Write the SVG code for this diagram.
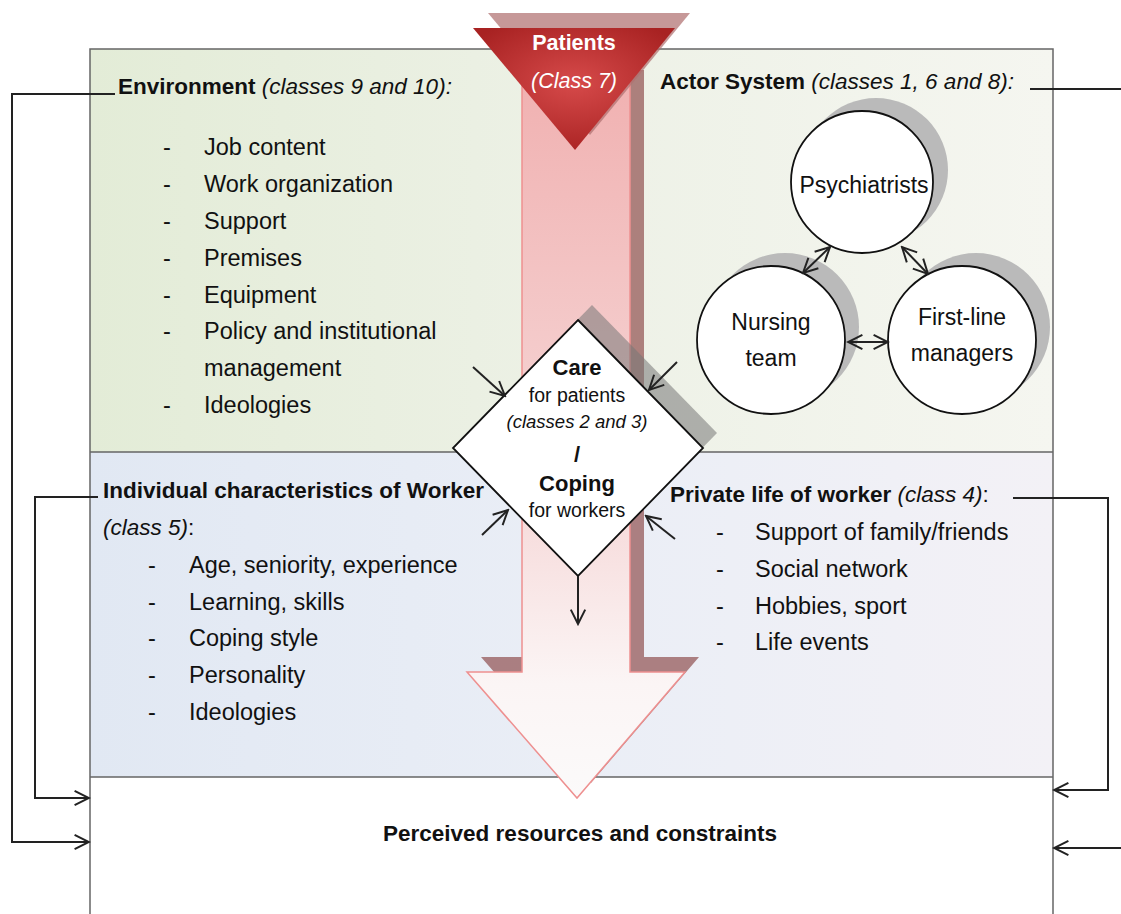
<svg xmlns="http://www.w3.org/2000/svg" width="1121" height="914" viewBox="0 0 1121 914">
<style>
text{font-family:"Liberation Sans",Arial,sans-serif;fill:#111}
.h{font-size:22.5px}
.b{font-weight:bold}
.i{font-style:italic}
.li{font-size:23.5px}
.c{text-anchor:middle}
.conn{fill:none;stroke:#222;stroke-width:2}
.frame{stroke:#666;stroke-width:1.5;fill:none}
.node{fill:#fff;stroke:#111;stroke-width:1.8}
.csh{fill:#bababa}
</style>
<defs>
<linearGradient id="gGreen" x1="0" y1="0" x2="1" y2="0">
<stop offset="0" stop-color="#e3ecd7"/><stop offset="0.5" stop-color="#edf1e6"/><stop offset="1" stop-color="#f5f6f0"/>
</linearGradient>
<linearGradient id="gBlue" x1="0" y1="0" x2="1" y2="0">
<stop offset="0" stop-color="#e1e8f3"/><stop offset="0.5" stop-color="#eaeef6"/><stop offset="1" stop-color="#f3f1f6"/>
</linearGradient>
<linearGradient id="gShaft" x1="0" y1="0" x2="0" y2="1">
<stop offset="0" stop-color="#f0adad"/><stop offset="0.6" stop-color="#f6d8d8"/><stop offset="0.85" stop-color="#fbf5f5"/><stop offset="1" stop-color="#fbfafa"/>
</linearGradient>
<radialGradient id="gRed" cx="0.5" cy="0.45" r="0.6">
<stop offset="0" stop-color="#d64a4a"/><stop offset="1" stop-color="#a82222"/>
</radialGradient>
<marker id="open" viewBox="0 0 10 10" refX="9" refY="5" markerWidth="9" markerHeight="9" orient="auto-start-reverse" markerUnits="strokeWidth">
<path d="M1,1 L9,5 L1,9" fill="none" stroke="#222" stroke-width="1.1"/>
</marker>
</defs>

<!-- backgrounds -->
<rect x="90" y="49" width="963" height="403" fill="url(#gGreen)"/>
<rect x="90" y="452" width="963" height="325" fill="url(#gBlue)"/>
<rect x="90" y="777" width="963" height="137" fill="#fff"/>
<path class="frame" d="M90,914 V49 H1053 V914 M90,452 H1053 M90,777 H1053"/>

<!-- big flow arrow -->
<g id="flow-arrow">
<polygon points="536,70 536,657 481,657 591,783 699,657 644,657 644,70" fill="#8c4a4a" opacity="0.68"/>
<polygon points="522,35 522,672 467,672 577,798 685,672 630,672 630,35" fill="url(#gShaft)" stroke="#ee9090" stroke-width="1.5"/>
</g>

<!-- patients triangle -->
<g id="patients">
<polygon points="488,13 690,13 590,135" fill="#b07070" opacity="0.72"/>
<polygon points="473,28 675,28 575,150" fill="url(#gRed)"/>
<text x="574" y="50" class="c b" style="font-size:21.5px;fill:#fff">Patients</text>
<text x="574" y="88" class="c i" style="font-size:21.5px;fill:#fff">(Class 7)</text>
</g>

<!-- care / coping diamond -->
<g id="care-coping">
<polygon points="592,305 717,433 592,561 467,433" fill="#777" opacity="0.55"/>
<polygon points="578,320 703,448 578,576 453,448" fill="#fff" stroke="#111" stroke-width="1.8"/>
<text x="577" y="375" class="c b" style="font-size:22px">Care</text>
<text x="577" y="402" class="c" style="font-size:19.5px">for patients</text>
<text x="577" y="428" class="c i" style="font-size:18.5px">(classes 2 and 3)</text>
<text x="577" y="462" class="c b" style="font-size:22px">/</text>
<text x="577" y="491" class="c b" style="font-size:22px">Coping</text>
<text x="577" y="517" class="c" style="font-size:19.5px">for workers</text>
</g>

<!-- environment -->
<g id="environment">
<text x="118" y="94" class="h"><tspan class="b">Environment </tspan><tspan class="i">(classes 9 and 10):</tspan></text>
<g class="li">
<text x="163" y="155">-</text><text x="204" y="155">Job content</text>
<text x="163" y="192">-</text><text x="204" y="192">Work organization</text>
<text x="163" y="229">-</text><text x="204" y="229">Support</text>
<text x="163" y="266">-</text><text x="204" y="266">Premises</text>
<text x="163" y="303">-</text><text x="204" y="303">Equipment</text>
<text x="163" y="339">-</text><text x="204" y="339">Policy and institutional</text>
<text x="204" y="376">management</text>
<text x="163" y="413">-</text><text x="204" y="413">Ideologies</text>
</g>
</g>

<!-- actor system -->
<g id="actor-system">
<text x="660" y="89" class="h"><tspan class="b">Actor System </tspan><tspan class="i">(classes 1, 6 and 8):</tspan></text>
</g>
<g id="psychiatrists">
<circle cx="876" cy="170" r="72" class="csh"/>
<circle cx="862" cy="182" r="71" class="node"/>
<text x="864" y="193" class="c" style="font-size:23px">Psychiatrists</text>
</g>
<g id="nursing-team">
<circle cx="785" cy="327" r="74" class="csh"/>
<circle cx="771" cy="340" r="74" class="node"/>
<text x="771" y="330" class="c" style="font-size:23px">Nursing</text>
<text x="771" y="366" class="c" style="font-size:23px">team</text>
</g>
<g id="first-line-managers">
<circle cx="976" cy="327" r="74" class="csh"/>
<circle cx="962" cy="340" r="74" class="node"/>
<text x="962" y="325" class="c" style="font-size:23px">First-line</text>
<text x="962" y="361" class="c" style="font-size:23px">managers</text>
</g>

<!-- individual characteristics -->
<g id="individual">
<text x="103" y="498" class="h b">Individual characteristics of Worker</text>
<text x="103" y="535" class="h"><tspan class="i">(class 5)</tspan>:</text>
<g class="li">
<text x="148" y="573">-</text><text x="189" y="573">Age, seniority, experience</text>
<text x="148" y="610">-</text><text x="189" y="610">Learning, skills</text>
<text x="148" y="646">-</text><text x="189" y="646">Coping style</text>
<text x="148" y="683">-</text><text x="189" y="683">Personality</text>
<text x="148" y="720">-</text><text x="189" y="720">Ideologies</text>
</g>
</g>

<!-- private life -->
<g id="private-life">
<text x="670" y="502" class="h"><tspan class="b">Private life of worker </tspan><tspan class="i">(class 4)</tspan>:</text>
<g class="li">
<text x="716" y="540">-</text><text x="755" y="540">Support of family/friends</text>
<text x="716" y="577">-</text><text x="755" y="577">Social network</text>
<text x="716" y="614">-</text><text x="755" y="614">Hobbies, sport</text>
<text x="716" y="650">-</text><text x="755" y="650">Life events</text>
</g>
</g>

<!-- perceived -->
<g id="perceived">
<text x="580" y="841" class="c b h">Perceived resources and constraints</text>
</g>

<!-- connectors -->
<g id="connectors">
<path class="conn" d="M115,94 H12 V842 H89" marker-end="url(#open)"/>
<path class="conn" d="M98,497 H35 V798 H89" marker-end="url(#open)"/>
<path class="conn" d="M1030,89 H1121"/>
<path class="conn" d="M1013,498 H1108 V790 H1054" marker-end="url(#open)"/>
<path class="conn" d="M1121,848 H1054" marker-end="url(#open)"/>
<path class="conn" d="M578,576 V624" marker-end="url(#open)"/>
<path class="conn" d="M473,367 L505,396" marker-end="url(#open)"/>
<path class="conn" d="M677,362 L649,390" marker-end="url(#open)"/>
<path class="conn" d="M482,535 L508,510" marker-end="url(#open)"/>
<path class="conn" d="M675,539 L646,516" marker-end="url(#open)"/>
<path class="conn" d="M830,247 L803,273" marker-start="url(#open)" marker-end="url(#open)"/>
<path class="conn" d="M902,247 L928,274" marker-start="url(#open)" marker-end="url(#open)"/>
<path class="conn" d="M848,342 L888,342" marker-start="url(#open)" marker-end="url(#open)"/>
</g>
</svg>
